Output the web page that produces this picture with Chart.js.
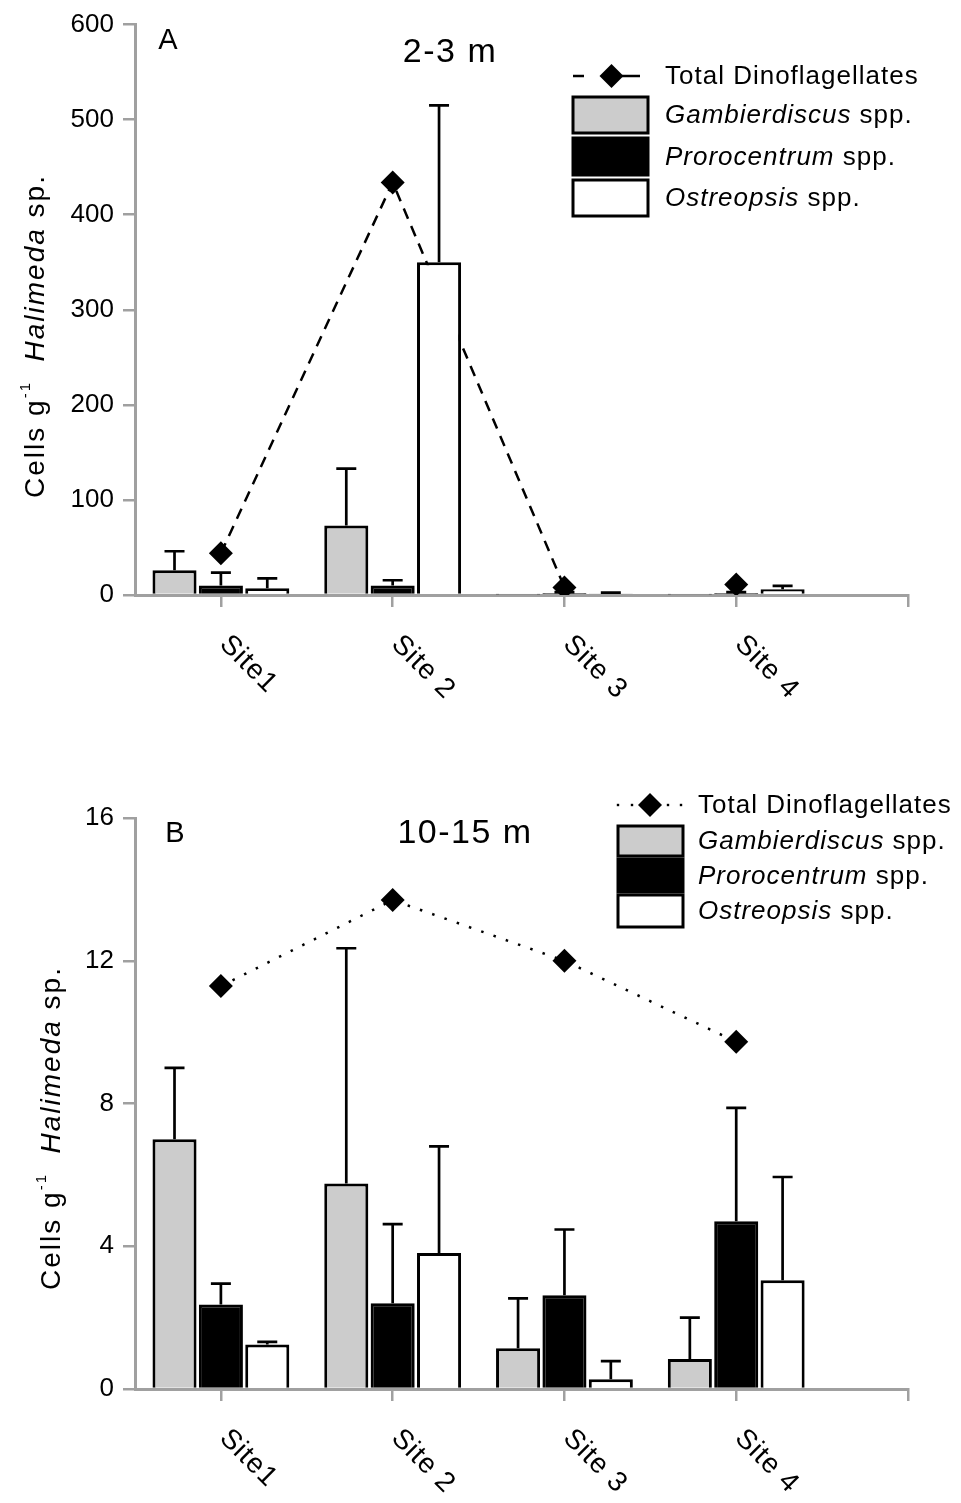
<!DOCTYPE html>
<html><head><meta charset="utf-8">
<script src="https://cdn.jsdelivr.net/npm/chart.js@4.4.1/dist/chart.umd.min.js"></script>
<style>
html,body{margin:0;padding:0;background:#fff;width:961px;height:1503px;overflow:hidden}
canvas{position:absolute;left:0}
#cA{top:0}
#cB{top:750px}
</style></head><body>
<canvas id="cA" width="961" height="750"></canvas>
<canvas id="cB" width="961" height="753"></canvas>
<script>
// ---------- DATA ----------
const sites = ['Site1', 'Site 2', 'Site 3', 'Site 4'];
const seriesNames = ['Gambierdiscus', 'Prorocentrum', 'Ostreopsis'];
const totalName = 'Total Dinoflagellates';

// Panel A : 2-3 m
const gambA    = [26, 73, 0.5, 0.5];
const gambErrA = [20, 60, 0, 0];
const proA     = [10, 10, 2, 2];
const proErrA  = [13.5, 5.5, 1, 1];
const ostA     = [7, 350, 1.5, 6];
const ostErrA  = [10.5, 165, 1, 3.5];
const totalA   = [44, 434, 8, 11];
const yTicksA  = [0, 100, 200, 300, 400, 500, 600];

// Panel B : 10-15 m
const gambB    = [7.0, 5.76, 1.14, 0.84];
const gambErrB = [2.0, 6.59, 1.4, 1.16];
const proB     = [2.37, 2.4, 2.63, 4.7];
const proErrB  = [0.58, 2.22, 1.84, 3.18];
const ostB     = [1.25, 3.81, 0.27, 3.05];
const ostErrB  = [0.07, 2.99, 0.51, 2.89];
const totalB   = [11.29, 13.7, 12.0, 9.73];
const yTicksB  = [0, 4, 8, 12, 16];

// ---------- STYLE / HELPERS ----------
const FONT = "'Liberation Sans', Arial, Helvetica, sans-serif";
const AXIS = '#a0a0a0';
const fills = ['#cccccc', '#000000', '#ffffff'];
const toXY = arr => arr.map((v, i) => ({x: i, y: v}));

function rich(ctx, segs, x, y, align) {
  let total = 0;
  segs.forEach(s => {
    ctx.font = (s.it ? 'italic ' : '') + s.size + 'px ' + FONT;
    s.w = ctx.measureText(s.t).width; total += s.w;
  });
  let cx = align === 'center' ? x - total / 2 : x;
  segs.forEach(s => {
    ctx.font = (s.it ? 'italic ' : '') + s.size + 'px ' + FONT;
    ctx.fillText(s.t, cx, y + (s.dy || 0));
    cx += s.w;
  });
}

function diamond(ctx, x, y, r) {
  ctx.beginPath();
  ctx.moveTo(x, y - r); ctx.lineTo(x + r, y); ctx.lineTo(x, y + r); ctx.lineTo(x - r, y);
  ctx.closePath(); ctx.fill();
}

const decor = {
  id: 'decor',
  afterDatasetsDraw(chart) {
    const ctx = chart.ctx, ys = chart.scales.y;
    chart.data.datasets.forEach((ds, di) => {
      if (!ds.errors) return;
      const meta = chart.getDatasetMeta(di);
      meta.data.forEach((el, i) => {
        const e = ds.errors[i]; if (!e) return;
        const v = ds.data[i].y;
        const y0 = ys.getPixelForValue(v), y1 = ys.getPixelForValue(v + e);
        ctx.save();
        ctx.strokeStyle = '#000'; ctx.lineWidth = 2.7;
        ctx.beginPath();
        ctx.moveTo(el.x, y0); ctx.lineTo(el.x, y1);
        ctx.moveTo(el.x - 10, y1); ctx.lineTo(el.x + 10, y1);
        ctx.stroke();
        ctx.restore();
      });
    });
  },
  afterDraw(chart, args, o) {
    const ctx = chart.ctx, xs = chart.scales.x, area = chart.chartArea;
    ctx.save();
    ctx.fillStyle = '#000';
    // x tick labels, rotated 45° clockwise
    ctx.font = '28px ' + FONT;
    ctx.letterSpacing = '1px';
    ctx.textAlign = 'left'; ctx.textBaseline = 'middle';
    sites.forEach((s, i) => {
      ctx.save();
      ctx.translate(xs.getPixelForValue(i) + 3, area.bottom + 45);
      ctx.rotate(Math.PI / 4);
      ctx.fillText(s, 0, 0);
      ctx.restore();
    });
    // panel letter and title
    ctx.textAlign = 'center';
    ctx.font = '29px ' + FONT; ctx.letterSpacing = '0px';
    ctx.fillText(o.letter, o.letterX, o.letterY);
    ctx.font = '34px ' + FONT; ctx.letterSpacing = '1.5px';
    ctx.fillText(o.title, o.titleX, o.titleY);
    // y axis title
    ctx.save();
    ctx.translate(o.yTitleX, o.yTitleY);
    ctx.rotate(-Math.PI / 2);
    ctx.textAlign = 'left'; ctx.textBaseline = 'alphabetic';
    ctx.letterSpacing = '2px';
    rich(ctx, [
      {t: 'Cells g', size: 28},
      {t: '-1', size: 15, dy: -14},
      {t: '  ', size: 28},
      {t: 'Halimeda', size: 28, it: true},
      {t: ' sp.', size: 28}
    ], 0, 0, 'center');
    ctx.restore();
    // legend
    const L = o.legend;
    ctx.letterSpacing = '1px';
    ctx.textAlign = 'left'; ctx.textBaseline = 'middle';
    ctx.strokeStyle = '#000';
    if (L.dotted) {
      L.marks.forEach(px => { ctx.fillRect(px - 1.2, L.lineY - 1.2, 2.4, 2.4); });
    } else {
      ctx.lineWidth = 2.5;
      L.marks.forEach(seg => { ctx.beginPath(); ctx.moveTo(seg[0], L.lineY); ctx.lineTo(seg[1], L.lineY); ctx.stroke(); });
    }
    diamond(ctx, L.dx, L.lineY, 12);
    rich(ctx, [{t: totalName, size: 26}], L.textX, L.lineY + 1, 'left');
    seriesNames.forEach((n, i) => {
      const b = L.boxes[i];
      ctx.fillStyle = fills[i];
      ctx.fillRect(L.x0, b[0], L.x1 - L.x0, b[1] - b[0]);
      ctx.lineWidth = 3; ctx.strokeStyle = '#000';
      ctx.strokeRect(L.x0, b[0], L.x1 - L.x0, b[1] - b[0]);
      ctx.fillStyle = '#000';
      rich(ctx, [{t: n, size: 26, it: true}, {t: ' spp.', size: 26}], L.textX, (b[0] + b[1]) / 2 + 1, 'left');
    });
    ctx.restore();
  }
};

function makeChart(id, c) {
  const ends = sites.map((_, i) => i).concat([sites.length]);
  return new Chart(document.getElementById(id), {
    type: 'bar',
    data: {
      datasets: [
        {type: 'line', label: totalName, data: toXY(c.total), borderColor: '#000', borderWidth: c.lw,
         borderDash: c.dash, pointStyle: 'rectRot', pointRadius: 12, pointHoverRadius: 12,
         pointBackgroundColor: '#000', pointBorderColor: '#000', pointBorderWidth: 0,
         segment: {borderColor: s => (c.hideLast && s.p1DataIndex === sites.length - 1) ? 'rgba(0,0,0,0)' : '#000'},
         fill: false, tension: 0, order: 2},
        {type: 'bar', label: seriesNames[0], data: toXY(c.s[0]), errors: c.e[0], backgroundColor: fills[0],
         borderColor: '#000', borderWidth: 3, order: 1, categoryPercentage: 0.81, barPercentage: 0.95},
        {type: 'bar', label: seriesNames[1], data: toXY(c.s[1]), errors: c.e[1], backgroundColor: fills[1],
         borderColor: '#000', borderWidth: 3, order: 1, categoryPercentage: 0.81, barPercentage: 0.95},
        {type: 'bar', label: seriesNames[2], data: toXY(c.s[2]), errors: c.e[2], backgroundColor: fills[2],
         borderColor: '#000', borderWidth: 3, order: 1, categoryPercentage: 0.81, barPercentage: 0.95}
      ]
    },
    options: {
      responsive: false, animation: false, devicePixelRatio: 1,
      layout: {padding: {top: c.padTop, right: 53, left: 0, bottom: 0}},
      plugins: {legend: {display: false}, tooltip: {enabled: false}, decor: c.decor},
      scales: {
        x: {type: 'linear', min: -0.5, max: sites.length, offset: false,
            afterBuildTicks: s => { s.ticks = ends.map(v => ({value: v})); },
            ticks: {display: false},
            grid: {offset: false, drawOnChartArea: false, drawTicks: true, tickLength: 12, color: AXIS, lineWidth: 2.5},
            border: {display: true, color: AXIS, width: 3},
            afterFit: s => { s.height = c.xh; }},
        y: {type: 'linear', min: 0, max: c.yTicks[c.yTicks.length - 1],
            afterBuildTicks: s => { s.ticks = c.yTicks.map(v => ({value: v})); },
            ticks: {font: {family: FONT, size: 26}, color: '#000', padding: 9},
            grid: {drawOnChartArea: false, drawTicks: true, tickLength: 12, color: AXIS, lineWidth: 2.5},
            border: {display: true, color: AXIS, width: 3},
            afterFit: s => { s.width = 135; }}
      }
    },
    plugins: [decor]
  });
}

makeChart('cA', {
  total: totalA, s: [gambA, proA, ostA], e: [gambErrA, proErrA, ostErrA], yTicks: yTicksA,
  dash: [11, 8], lw: 2.5, padTop: 23, xh: 155, hideLast: true,
  decor: {letter: 'A', letterX: 168, letterY: 41, title: '2-3 m', titleX: 450, titleY: 53,
          yTitleX: 44, yTitleY: 336,
          legend: {dotted: false, marks: [[573, 584], [622, 640]], dx: 611.5, lineY: 76, textX: 665,
                   x0: 573, x1: 648, boxes: [[97, 133], [138, 175], [180, 216]]}}
});

makeChart('cB', {
  total: totalB, s: [gambB, proB, ostB], e: [gambErrB, proErrB, ostErrB], yTicks: yTicksB,
  dash: [2.5, 10.5], lw: 2.5, padTop: 68, xh: 114, hideLast: false,
  decor: {letter: 'B', letterX: 175, letterY: 84, title: '10-15 m', titleX: 465, titleY: 84,
          yTitleX: 60, yTitleY: 378,
          legend: {dotted: true, marks: [618, 632, 668, 681], dx: 650, lineY: 55, textX: 698,
                   x0: 618, x1: 683, boxes: [[76, 106], [109, 142], [145, 177]]}}
});
</script>
</body></html>
